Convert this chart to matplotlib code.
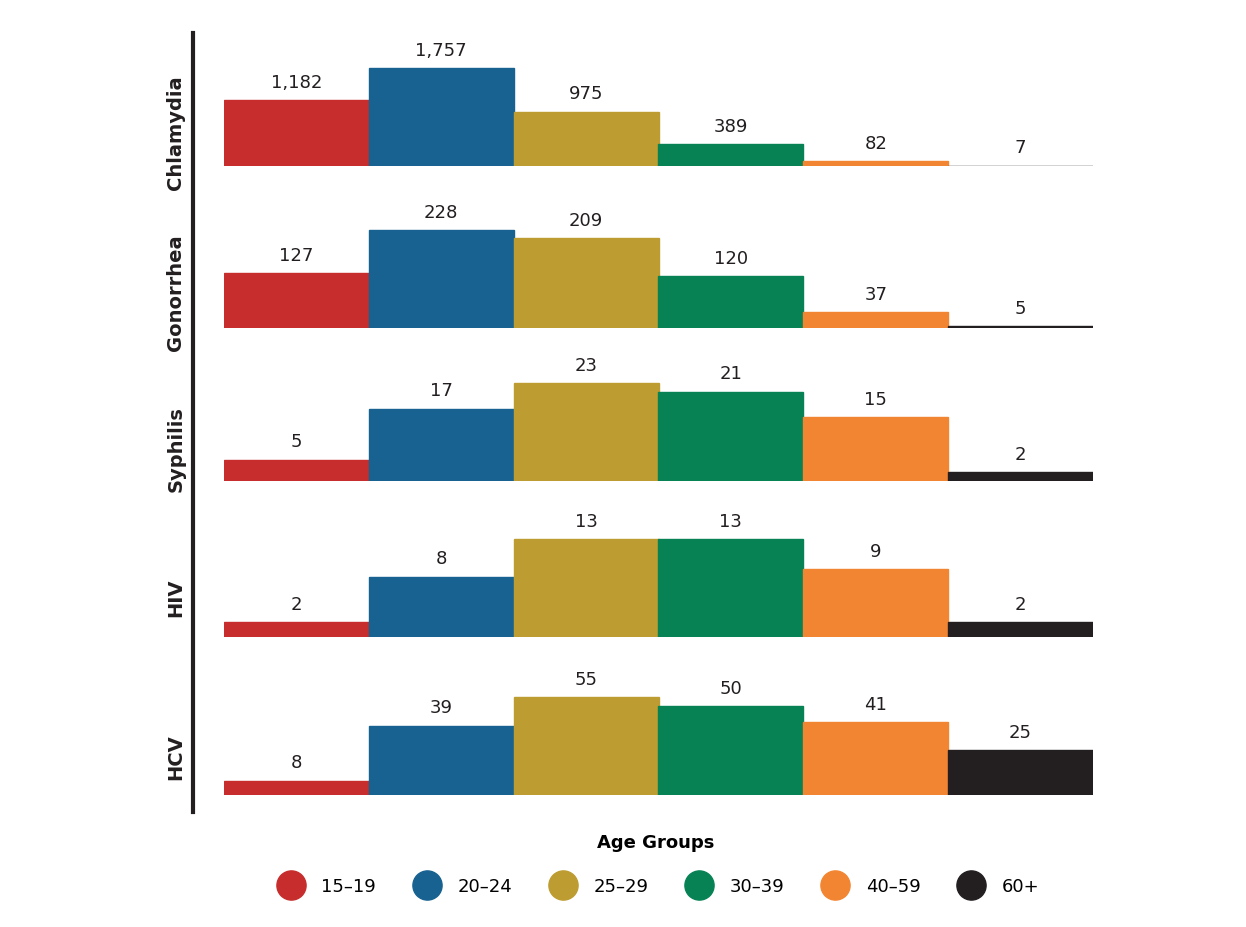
import matplotlib.pyplot as plt
from matplotlib.lines import Line2D

# dane z wykresu
infections = ['Chlamydia', 'Gonorrhea', 'Syphilis', 'HIV', 'HCV']
age_groups = ['15–19', '20–24', '25–29', '30–39', '40–59', '60+']
chlamydia = [1182, 1757, 975, 389, 82, 7]
gonorrhea = [127, 228, 209, 120, 37, 5]
syphilis = [5, 17, 23, 21, 15, 2]
hiv = [2, 8, 13, 13, 9, 2]
hcv = [8, 39, 55, 50, 41, 25]
values = [chlamydia, gonorrhea, syphilis, hiv, hcv]

colors = ['#C62D2C', '#176290', '#BD9C31', '#068255', '#F28531', '#231F20']

W, H = 1246, 927
fig = plt.figure(figsize=(W / 100, H / 100), dpi=100)

# linie bazowe paneli (w pikselach od gory)
baselines = [166, 328, 481, 637, 795]
label_y = [133, 293, 449, 598, 757]
ax_h = 140
bar_max = 98

for name, vals, base, ly in zip(infections, values, baselines, label_y):
    ax = fig.add_axes([224 / W, 1 - base / H, 869 / W, ax_h / H])
    x = list(range(len(vals)))
    ax.bar(x, vals, width=1.0, color=colors, edgecolor=colors, linewidth=1.0)
    ax.set_xlim(-0.5, len(vals) - 0.5)
    ax.set_ylim(0, max(vals) * ax_h / bar_max)
    for xi, v in zip(x, vals):
        ax.annotate(f'{v:,}', (xi, v), xytext=(0, 6), textcoords='offset points',
                    ha='center', va='bottom', fontsize=13, color='#231F20')
    ax.axis('off')
    fig.text(176 / W, 1 - ly / H, name, rotation=90, ha='center', va='center',
             fontsize=14, fontweight='bold', color='#231F20')

# pionowa linia po lewej
fig.add_artist(Line2D([193 / W, 193 / W], [1 - 33 / H, 1 - 812 / H],
                      color='#231F20', linewidth=3, transform=fig.transFigure))

handles = [Line2D([], [], marker='o', linestyle='', markersize=21,
                  markerfacecolor=c, markeredgecolor=c) for c in colors]
leg = fig.legend(handles, age_groups, loc='center', ncol=6,
                 bbox_to_anchor=(656 / W, 1 - 865 / H), frameon=False,
                 fontsize=13, title='Age Groups', columnspacing=1.8,
                 handletextpad=0.7, title_fontproperties={'weight': 'bold', 'size': 13})
leg._legend_box.sep = 18

fig.savefig('out.png', dpi=100)
